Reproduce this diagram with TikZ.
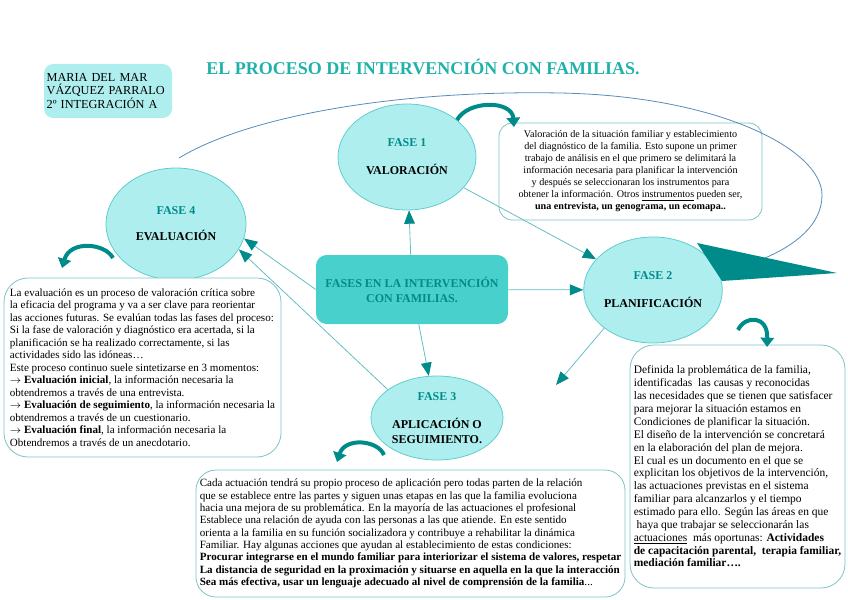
\documentclass[tikz,border=0pt]{standalone}
\usepackage{fontspec}
\setmainfont{Liberation Serif}
\usetikzlibrary{arrows.meta,shapes.geometric,positioning}
\definecolor{turquesa}{RGB}{175,238,238}
\definecolor{turquesaborde}{RGB}{95,205,205}
\definecolor{turquesamedio}{RGB}{72,209,204}
\definecolor{verdeazul}{RGB}{0,139,139}
\definecolor{titulocol}{RGB}{32,178,170}
\definecolor{lineacol}{RGB}{100,190,195}
\definecolor{bordecaja}{RGB}{125,195,200}
\definecolor{arcocol}{RGB}{85,140,185}
\tikzset{
  fase/.style={ellipse, draw=turquesaborde, fill=turquesa, line width=0.6pt, inner sep=0pt, align=center, font=\fontsize{9}{10}\selectfont\bfseries},
  caja/.style={draw=bordecaja, fill=white, line width=0.6pt, rounded corners=14pt, inner sep=0pt, font=\fontsize{8.3}{9.4}\selectfont},
  centrobox/.style={fill=turquesamedio, rounded corners=8pt, inner sep=0pt, align=center, text=verdeazul, font=\fontsize{9}{11.25}\selectfont\bfseries},
  nombre/.style={fill=turquesa, rounded corners=7pt, inner sep=2pt, align=left, font=\fontsize{9.2}{10.1}\selectfont},
  conector/.style={lineacol, line width=0.6pt, -{Triangle[length=10pt,width=8pt,color=verdeazul]}},
  giro/.style={verdeazul, line width=3pt, -{Triangle[length=7pt,width=10pt]}},
  arco/.style={arcocol, line width=0.6pt},
  titulo/.style={font=\fontsize{13.5}{16}\selectfont\bfseries, text=titulocol}
}

\begin{document}
\begin{tikzpicture}[x=0.75pt, y=-0.75pt]
  \useasboundingbox (0,0) rectangle (848,599);
  % encabezado
  \node[titulo] (titulo) at (423,67) {EL PROCESO DE INTERVENCIÓN CON FAMILIAS.};
  \node[nombre, text width=92pt, minimum height=40.5pt] (autora) at (108,91) {MARIA DEL MAR\\VÁZQUEZ PARRALO\\2º INTEGRACIÓN A};
  % fases
  \node[centrobox, minimum width=144pt, minimum height=51.75pt] (centro) at (412,289.5) {FASES EN LA INTERVENCIÓN\\CON FAMILIAS.};
  \node[fase, minimum width=103.5pt, minimum height=79.5pt] (fase1) at (407,157) {\textcolor{verdeazul}{FASE 1}\\[11pt]VALORACIÓN};
  \node[fase, minimum width=103.5pt, minimum height=79.5pt] (fase2) at (653,290) {\textcolor{verdeazul}{FASE 2}\\[11pt]PLANIFICACIÓN};
  \node[fase, minimum width=99pt, minimum height=63pt] (fase3) at (437,418) {\textcolor{verdeazul}{FASE 3}\\[11.5pt]APLICACIÓN O\\[1.2pt]SEGUIMIENTO.};
  \node[fase, minimum width=105pt, minimum height=84pt] (fase4) at (176,224) {\textcolor{verdeazul}{FASE 4}\\[9.5pt]EVALUACIÓN};
  % cajas de texto
  \node[caja, rounded corners=10pt, align=center, minimum width=197.25pt, minimum height=72.75pt, font=\fontsize{7.6}{9}\selectfont] (valtexto) at (630.5,171.5) {Valoración de la situación familiar y establecimiento\\
del diagnóstico de la familia. Esto supone un primer\\
trabajo de análisis en el que primero se delimitará la\\
información necesaria para planificar la intervención\\
y después se seleccionaran los instrumentos para\\
obtener la información. Otros \underline{instrumentos} pueden ser,\\
\textbf{una entrevista, un genograma, un ecomapa..}};
  \node[caja, rounded corners=18pt, align=left, minimum width=207.75pt, minimum height=134.25pt] (evaltexto) at (142.5,367.5) {La evaluación es un proceso de valoración crítica sobre\\
la eficacia del programa y va a ser clave para reorientar\\
las acciones futuras. Se evalúan todas las fases del proceso:\\
Si la fase de valoración y diagnóstico era acertada, si la\\
planificación se ha realizado correctamente, si las\\
actividades sido las idóneas…\\
Este proceso continuo suele sintetizarse en 3 momentos:\\
$\rightarrow$ \textbf{Evaluación inicial}, la información necesaria la\\
obtendremos a través de una entrevista.\\
$\rightarrow$ \textbf{Evaluación de seguimiento}, la información necesaria la\\
obtendremos a través de un cuestionario.\\
$\rightarrow$ \textbf{Evaluación final}, la información necesaria la\\
Obtendremos a través de un anecdotario.};
  \node[caja, rounded corners=18pt, align=left, minimum width=161.25pt, minimum height=182.25pt, font=\fontsize{8.6}{9.65}\selectfont] (plantexto) at (737.5,466.5) {Definida la problemática de la familia,\\
identificadas\ \ las causas y reconocidas\\
las necesidades que se tienen que satisfacer\\
para mejorar la situación estamos en\\
Condiciones de planificar la situación.\\
El diseño de la intervención se concretará\\
en la elaboración del plan de mejora.\\
El cual es un documento en el que se\\
explicitan los objetivos de la intervención,\\
las actuaciones previstas en el sistema\\
familiar para alcanzarlos y el tiempo\\
estimado para ello. Según las áreas en que\\
\ haya que trabajar se seleccionarán las\\
\underline{actuaciones}\ \ más oportunas: \textbf{Actividades}\\
\textbf{de capacitación parental,\ \ terapia familiar,}\\
\textbf{mediación familiar….}};
  \node[caja, rounded corners=15pt, align=left, minimum width=321.75pt, minimum height=95.25pt, font=\fontsize{8.3}{9.25}\selectfont] (apltexto) at (410.5,533.5) {Cada actuación tendrá su propio proceso de aplicación pero todas parten de la relación\\
que se establece entre las partes y siguen unas etapas en las que la familia evoluciona\\
hacia una mejora de su problemática. En la mayoría de las actuaciones el profesional\\
Establece una relación de ayuda con las personas a las que atiende. En este sentido\\
orienta a la familia en su función socializadora y contribuye a rehabilitar la dinámica\\
Familiar. Hay algunas acciones que ayudan al establecimiento de estas condiciones:\\
\textbf{Procurar integrarse en el mundo familiar para interiorizar el sistema de valores, respetar}\\
\textbf{La distancia de seguridad en la proximación y situarse en aquella en la que la interacción}\\
\textbf{Sea más efectiva, usar un lenguaje adecuado al nivel de comprensión de la familia}...};
  % conectores
  \coordinate (hacia3) at (556,385);
  \coordinate (arcoinicio) at (179,158);
  \draw[conector] (centro) -- (fase1);
  \draw[conector] (fase1) -- (fase2);
  \draw[conector] (centro) -- (fase2);
  \draw[conector] (centro) -- (fase3);
  \draw[conector] (centro.west) -- (fase4.-12);
  \draw[conector] (fase3.150) -- (fase4.-22);
  \draw[conector] (fase2.218) -- (hacia3);
  % gran arco de vuelta
  \draw[arco] (arcoinicio) .. controls (250,115) and (400,90) .. (560,93) .. controls (720,96) and (822,150) .. (822,195) .. controls (822,225) and (795,245) .. (765,258);
  \fill[verdeazul] (697,243) -- (837,273) -- (722,281) -- cycle;
  % flechas curvas
  \draw[giro] (457,120) .. controls (468,100) and (512,100) .. (514,127);
  \draw[giro] (113,258) .. controls (105,243) and (70,240) .. (62,268);
  \draw[giro] (384,455) .. controls (378,440) and (345,437) .. (337,462);
  \draw[giro] (738,330) .. controls (745,315) and (768,315) .. (767,347);
\end{tikzpicture}
\end{document}
